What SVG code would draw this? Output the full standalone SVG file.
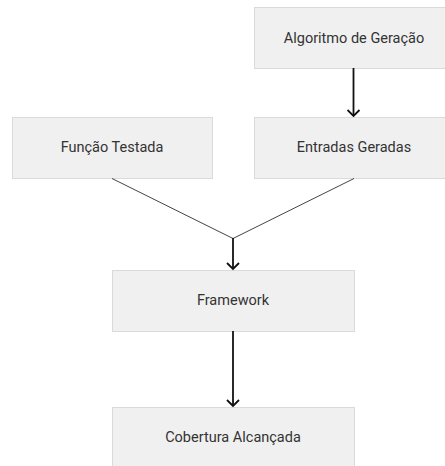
<svg xmlns="http://www.w3.org/2000/svg" width="445" height="466" viewBox="0 0 445 466">
<style>
.box{fill:#f0f0f0;stroke:#dadada;stroke-width:1}
.lbl{font-family:Roboto,"Liberation Sans",sans-serif;font-size:14.5px;fill:#333;text-anchor:middle}
.arr{stroke:#111;stroke-width:1.8;fill:none}
.thin{stroke:#444;stroke-width:1;fill:none}
</style>
<defs>
<marker id="chev" markerWidth="10" markerHeight="14" refX="8" refY="7" orient="auto" markerUnits="userSpaceOnUse" viewBox="0 0 10 14">
<path d="M2,1 L8,7 L2,13" fill="none" stroke="#111" stroke-width="1.8"/>
</marker>
</defs>
<g id="n-algoritmo"><rect class="box" x="254.5" y="7.5" width="200" height="61"/><text class="lbl" x="354" y="43">Algoritmo de Geração</text></g>
<g id="n-funcao"><rect class="box" x="12.5" y="117.5" width="200" height="61"/><text class="lbl" x="112" y="152">Função Testada</text></g>
<g id="n-entradas"><rect class="box" x="254.5" y="117.5" width="200" height="61"/><text class="lbl" x="354" y="152">Entradas Geradas</text></g>
<g id="n-framework"><rect class="box" x="112.5" y="270.5" width="242" height="61"/><text class="lbl" x="233" y="305">Framework</text></g>
<g id="n-cobertura"><rect class="box" x="112.5" y="407.5" width="242" height="61"/><text class="lbl" x="233" y="442">Cobertura Alcançada</text></g>
<g id="connectors">
<line class="arr" x1="353.5" y1="68" x2="353.5" y2="116" marker-end="url(#chev)"/>
<polyline class="thin" points="112,178.5 233,238.5 354,178.5"/>
<line class="arr" x1="233" y1="238" x2="233" y2="269" marker-end="url(#chev)"/>
<line class="arr" x1="233" y1="331" x2="233" y2="406" marker-end="url(#chev)"/>
</g>
</svg>
